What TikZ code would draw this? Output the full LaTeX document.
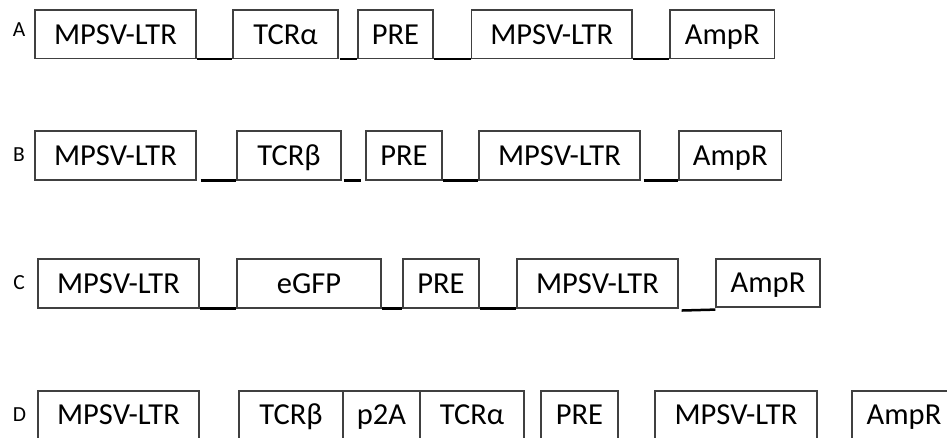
\documentclass[tikz,border=0pt]{standalone}
\usepackage{fontspec}
\setmainfont{Carlito}
\begin{document}
\begin{tikzpicture}[x=1pt,y=-1pt,
  box/.style={draw=black!75, line width=1.2pt, inner sep=0pt, text=black,
    font=\fontsize{30.5}{36}\selectfont, text height=19.6pt, text depth=0pt},
  conn/.style={line width=2.5pt, black},
  lbl/.style={inner sep=0pt, text=black, font=\fontsize{21.5}{25}\selectfont,
    text height=13.8pt, text depth=0pt}]
\path[use as bounding box, clip] (0,0) rectangle (947,438);
\fill[white] (0,0) rectangle (947,438);
% Row A
\node[lbl] (la) at (19,30) {A};
\begin{scope}[every node/.append style={minimum height=48.7pt}]
\node[box, minimum width=161pt]   (a1) at (115.5,34.3) {MPSV-LTR};
\node[box, minimum width=105pt]   (a2) at (285.5,34.3) {TCRα};
\node[box, minimum width=75pt]    (a3) at (395.5,34.3) {PRE};
\node[box, minimum width=160.5pt] (a4) at (551.75,34.3) {MPSV-LTR};
\node[box, minimum width=104.5pt] (a5) at (722.25,34.3) {AmpR};
\end{scope}
\draw[conn] (a1.south east) -- (a2.south west);
\draw[conn, shorten <=1pt] (a2.south east) -- (a3.south west);
\draw[conn] (a3.south east) -- (a4.south west);
\draw[conn] (a4.south east) -- (a5.south west);
% Row B
\node[lbl] (lb) at (19,154.5) {B};
\begin{scope}[every node/.append style={minimum height=49pt}]
\node[box, minimum width=161pt]   (b1) at (115.5,155.5) {MPSV-LTR};
\node[box, minimum width=104pt]   (b2) at (289,155.5) {TCRβ};
\node[box, minimum width=76pt]    (b3) at (404,155.5) {PRE};
\node[box, minimum width=161pt]   (b4) at (559.5,155.5) {MPSV-LTR};
\node[box, minimum width=102.5pt] (b5) at (730.25,155.5) {AmpR};
\end{scope}
\draw[conn, shorten <=4pt] (b1.south east) -- (b2.south west);
\draw[conn, shorten <=2pt, shorten >=4pt] (b2.south east) -- (b3.south west);
\draw[conn] (b3.south east) -- (b4.south west);
\draw[conn, shorten <=3pt] (b4.south east) -- (b5.south west);
% Row C
\node[lbl] (lc) at (19,282.5) {C};
\begin{scope}[every node/.append style={minimum height=49pt}]
\node[box, minimum width=161pt]   (c1) at (118.5,283.5) {MPSV-LTR};
\node[box, minimum width=144pt]   (c2) at (309,283.5) {eGFP};
\node[box, minimum width=76pt]    (c3) at (441,283.5) {PRE};
\node[box, minimum width=161pt]   (c4) at (597.5,283.5) {MPSV-LTR};
\end{scope}
\node[box, minimum width=104pt, minimum height=48pt] (c5) at (768,283) {AmpR};
\draw[conn] (c1.south east) -- (c2.south west);
\draw[conn] (c2.south east) -- (c3.south west);
\draw[conn] (c3.south east) -- (c4.south west);
\draw[conn, shorten <=3pt] ([yshift=-2pt]c4.south east) -- ([yshift=-2pt]c5.south west);
% Row D
\node[lbl] (ld) at (19.5,415) {D};
\begin{scope}[every node/.append style={minimum height=47.5pt}]
\node[box, minimum width=161pt] (d1) at (118.5,414.75) {MPSV-LTR};
\node[box, minimum width=104pt] (d2) at (291,414.75) {TCRβ};
\node[box, minimum width=77pt]  (d3) at (381.5,414.75) {p2A};
\node[box, minimum width=104pt] (d4) at (472,414.75) {TCRα};
\node[box, minimum width=77pt]  (d5) at (579.5,414.75) {PRE};
\node[box, minimum width=162pt] (d6) at (736,414.75) {MPSV-LTR};
\node[box, minimum width=104pt] (d7) at (904,414.75) {AmpR};
\end{scope}
\draw[conn] (d1.south east) -- (d2.south west);
\draw[conn] (d4.south east) -- (d5.south west);
\draw[conn] (d5.south east) -- (d6.south west);
\draw[conn] (d6.south east) -- (d7.south west);
\end{tikzpicture}
\end{document}
